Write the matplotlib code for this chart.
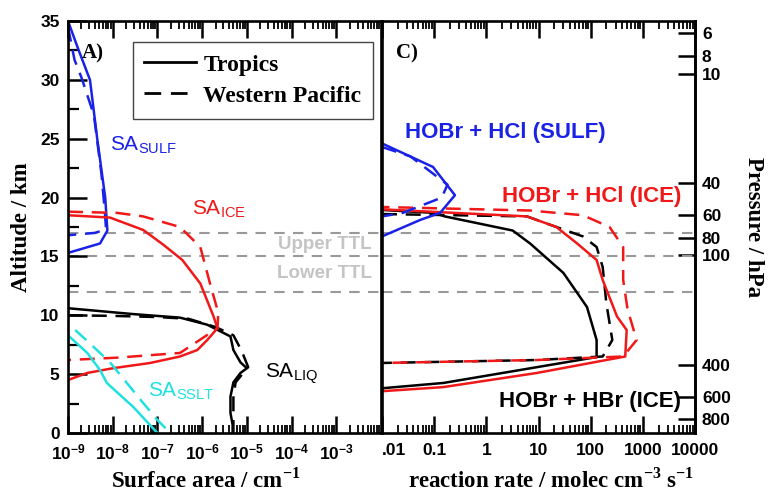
import numpy as np
import matplotlib.pyplot as plt
import matplotlib.ticker as ticker
from matplotlib.lines import Line2D

plt.rcParams['font.family'] = 'Liberation Sans'
plt.rcParams['mathtext.fontset'] = 'custom'
plt.rcParams['mathtext.rm'] = 'Liberation Serif:bold'
plt.rcParams['mathtext.bf'] = 'Liberation Sans:bold'
plt.rcParams['mathtext.sf'] = 'Liberation Sans'

# ---- panel A: surface area profiles (cm-1) vs altitude (km) ----
sulf_trop_alt = [35, 32.6, 30, 25, 20, 17.2, 16.1, 15.3]
sulf_trop_sa = [1.0e-9, 1.7e-9, 3.1e-9, 4.5e-9, 6.8e-9, 7.6e-9, 5.2e-9, 1.0e-9]
sulf_wp_alt = [34.5, 31.7, 30.2, 27, 22, 19, 17.3, 17.0, 16.8]
sulf_wp_sa = [1.0e-9, 1.4e-9, 2.0e-9, 3.8e-9, 5.6e-9, 6.6e-9, 7.1e-9, 4.0e-9, 1.0e-9]

ice_trop_alt = [18.5, 18.3, 17.25, 16.0, 14.7, 12.7, 9.9, 8.9, 7.9, 7.05, 6.5, 5.95, 5.5, 5.1, 4.5]
ice_trop_sa = [1.0e-9, 8.7e-9, 4.8e-8, 1.35e-7, 3.6e-7, 9.1e-7, 1.8e-6, 2.2e-6, 1.3e-6,
               7.8e-7, 3.2e-7, 6.9e-8, 1.0e-8, 2.7e-9, 1.0e-9]
ice_wp_alt = [18.8, 18.7, 18.4, 17.5, 15.8, 12.7, 10.2, 8.9, 6.8, 6.4, 6.2]
ice_wp_sa = [1.0e-9, 1.26e-8, 4.8e-8, 3.2e-7, 9.1e-7, 1.5e-6, 2.3e-6, 2.2e-6, 3.2e-7, 1.26e-8, 1.0e-9]

liq_trop_alt = [10.6, 10.1, 9.8, 9.2, 8.2, 7.05, 6.0, 5.5, 5.1, 4.3, 3.1, 1.7, 0.7, 0]
liq_trop_sa = [1.0e-9, 2.9e-8, 3.2e-7, 1.3e-6, 4.3e-6, 5.0e-6, 7.2e-6, 1.0e-5, 7.2e-6,
               5.0e-6, 4.3e-6, 4.3e-6, 4.8e-6, 4.8e-6]
liq_wp_alt = [10.0, 9.95, 9.85, 9.7, 9.0, 8.3, 7.0, 5.6, 5.0, 4.3, 3.0, 1.5, 0]
liq_wp_sa = [1.0e-9, 1.0e-8, 1.0e-7, 5.0e-7, 2.0e-6, 5.0e-6, 7.6e-6, 1.07e-5, 7.9e-6,
             5.6e-6, 5.0e-6, 5.0e-6, 5.0e-6]

sslt_trop_alt = [8.3, 6.8, 5.35, 4.25, 2.2, 0]
sslt_trop_sa = [1.0e-9, 2.7e-9, 5.2e-9, 7.4e-9, 2.9e-8, 1.0e-7]
sslt_wp_alt = [8.75, 7.6, 6.0, 2.55, 1.1, 0]
sslt_wp_sa = [1.45e-9, 3.1e-9, 8.7e-9, 4.8e-8, 1.0e-7, 1.95e-7]

# ---- panel C: reaction rates (molec cm-3 s-1) vs altitude (km) ----
hcl_sulf_trop_alt = [25.0, 24.6, 22.6, 20.2, 18.7, 18.1, 16.7, 16.4]
hcl_sulf_trop_rate = [0.003, 0.01, 0.095, 0.25, 0.13, 0.054, 0.01, 0.005]
hcl_sulf_wp_alt = [24.3, 23.5, 21.1, 20.0, 18.7, 18.4]
hcl_sulf_wp_rate = [0.01, 0.035, 0.18, 0.14, 0.025, 0.01]

hcl_ice_trop_alt = [19.0, 18.4, 17.5, 16.1, 14.7, 13.0, 9.9, 8.75, 6.5, 5.1, 3.9, 3.55]
hcl_ice_trop_rate = [0.01, 6.0, 22, 55, 130, 170, 320, 490, 460, 9.3, 0.15, 0.01]
hcl_ice_wp_alt = [19.2, 18.9, 18.5, 17.5, 15.8, 13.0, 10.5, 7.9, 6.5, 6.2, 5.95]
hcl_ice_wp_rate = [0.01, 6.9, 71, 230, 420, 420, 510, 760, 420, 9.3, 0.01]

hbr_ice_trop_alt = [18.95, 18.7, 18.4, 17.2, 16.1, 13.6, 10.7, 7.9, 6.45, 4.25, 3.8]
hbr_ice_trop_rate = [0.01, 0.1, 0.16, 3.2, 6.9, 30, 85, 130, 130, 0.15, 0.01]
hbr_ice_wp_alt = [18.6, 18.4, 17.5, 16.7, 15.8, 14.1, 11.0, 7.9, 6.5, 6.2, 5.95]
hbr_ice_wp_rate = [0.01, 6.0, 22, 71, 130, 170, 200, 260, 170, 9.3, 0.01]

ttl_levels = [17, 15, 12]
sa_ticks = [1e-9, 1e-8, 1e-7, 1e-6, 1e-5, 1e-4, 1e-3]
sa_ticklabels = [r'$\mathbf{10^{-9}}$', r'$\mathbf{10^{-8}}$', r'$\mathbf{10^{-7}}$',
                 r'$\mathbf{10^{-6}}$', r'$\mathbf{10^{-5}}$', r'$\mathbf{10^{-4}}$',
                 r'$\mathbf{10^{-3}}$']
rate_ticks = [0.01, 0.1, 1, 10, 100, 1000, 10000]
rate_ticklabels = ['.01', '0.1', '1', '10', '100', '1000', '10000']
p_ticks = [6, 8, 10, 40, 60, 80, 100, 400, 600, 800]

BLUE = '#1a22e6'
RED = '#f01818'
CYAN = '#20e0e0'
DASH = (0, (6, 3.5))
LW = 1.8
serif = 'Liberation Serif'

fig = plt.figure(figsize=(7.68, 4.93), dpi=100)
axA = fig.add_axes([68 / 768, 1 - 433 / 493, 313 / 768, 412 / 493])
axC = fig.add_axes([382 / 768, 1 - 433 / 493, 313 / 768, 412 / 493])


def style_axis(ax):
    ax.set_xscale('log')
    ax.set_ylim(0, 35)
    for s in ax.spines.values():
        s.set_linewidth(1.9)
    ax.tick_params(axis='x', which='major', direction='in', length=12, width=1.8,
                   top=True, labelsize=12.5, pad=7)
    ax.tick_params(axis='x', which='minor', direction='in', length=6, width=1.3, top=True)
    ax.tick_params(axis='y', which='major', direction='in', length=14, width=1.8,
                   labelsize=12.5, pad=6)
    ax.tick_params(axis='y', which='minor', direction='in', length=8, width=1.6)
    ax.xaxis.set_minor_locator(ticker.LogLocator(base=10, subs=np.arange(2, 10), numticks=20))
    ax.xaxis.set_minor_formatter(ticker.NullFormatter())
    for lv in ttl_levels:
        ax.axhline(lv, color='#999999', lw=1.5, ls=(0, (5, 4)), zorder=1)


# panel A
style_axis(axA)
axA.set_xlim(1e-9, 1e-2)
axA.plot(sulf_trop_sa, sulf_trop_alt, color=BLUE, lw=LW)
axA.plot(sulf_wp_sa, sulf_wp_alt, color=BLUE, lw=LW, ls=DASH)
axA.plot(liq_trop_sa, liq_trop_alt, color='black', lw=LW)
axA.plot(liq_wp_sa, liq_wp_alt, color='black', lw=LW, ls=DASH)
axA.plot(ice_trop_sa, ice_trop_alt, color=RED, lw=LW)
axA.plot(ice_wp_sa, ice_wp_alt, color=RED, lw=LW, ls=DASH)
axA.plot(sslt_trop_sa, sslt_trop_alt, color=CYAN, lw=LW)
axA.plot(sslt_wp_sa, sslt_wp_alt, color=CYAN, lw=LW, ls=DASH)
axA.set_xticks(sa_ticks)
axA.set_xticklabels(sa_ticklabels)
axA.yaxis.set_major_locator(ticker.MultipleLocator(5))
axA.yaxis.set_minor_locator(ticker.MultipleLocator(2.5))
for lab in axA.get_yticklabels():
    lab.set_fontweight('bold')
axA.set_ylabel('Altitude / km', family=serif, fontweight='bold', fontsize=16.5, labelpad=6)
axA.set_xlabel(r'Surface area / cm$^{\mathrm{-1}}$', family=serif, fontweight='bold',
               fontsize=16.5)
axA.xaxis.set_label_coords(0.44, -0.085)

axA.text(0.045, 0.945, 'A)', transform=axA.transAxes, family=serif, fontweight='bold',
         fontsize=15, va='top')
axA.text(8.5e-9, 24.0, r'SA$_{\mathsf{SULF}}$', color=BLUE, fontsize=15)
axA.text(6.0e-7, 18.6, r'SA$_{\mathsf{ICE}}$', color=RED, fontsize=15)
axA.text(2.6e-5, 4.7, r'SA$_{\mathsf{LIQ}}$', color='black', fontsize=15)
axA.text(6.1e-8, 3.1, r'SA$_{\mathsf{SSLT}}$', color=CYAN, fontsize=15)
axA.text(0.97, 15.6, 'Upper TTL', transform=axA.get_yaxis_transform(), ha='right',
         color='#c4c4c4', fontsize=13.5, fontweight='bold')
axA.text(0.97, 13.2, 'Lower TTL', transform=axA.get_yaxis_transform(), ha='right',
         color='#c4c4c4', fontsize=13.5, fontweight='bold')

handles = [Line2D([], [], color='black', lw=2),
           Line2D([], [], color='black', lw=2, ls=DASH)]
leg = axA.legend(handles, ['Tropics', 'Western Pacific'], loc='upper right',
                 bbox_to_anchor=(0.975, 0.948), fancybox=False, framealpha=1,
                 edgecolor='#444444', handlelength=2.2,
                 prop={'family': serif, 'weight': 'bold', 'size': 17},
                 borderpad=0.5, labelspacing=0.4, handletextpad=0.3, borderaxespad=0)
leg.get_frame().set_linewidth(1.0)

# panel C
style_axis(axC)
axC.set_xlim(0.01, 1e4)
axC.plot(hbr_ice_trop_rate, hbr_ice_trop_alt, color='black', lw=LW)
axC.plot(hbr_ice_wp_rate, hbr_ice_wp_alt, color='black', lw=LW, ls=DASH)
axC.plot(hcl_ice_trop_rate, hcl_ice_trop_alt, color=RED, lw=LW)
axC.plot(hcl_ice_wp_rate, hcl_ice_wp_alt, color=RED, lw=LW, ls=(3, (6, 3.5)))
axC.plot(hcl_sulf_trop_rate, hcl_sulf_trop_alt, color=BLUE, lw=LW)
axC.plot(hcl_sulf_wp_rate, hcl_sulf_wp_alt, color=BLUE, lw=LW, ls=DASH)
axC.set_xticks(rate_ticks)
axC.set_xticklabels(rate_ticklabels)
for lab in axC.get_xticklabels():
    lab.set_fontweight('bold')
axC.get_xticklabels()[0].set_ha('left')
axC.tick_params(axis='y', left=False, labelleft=False)
axC.yaxis.set_major_locator(ticker.NullLocator())
axC.yaxis.set_minor_locator(ticker.NullLocator())
axC.set_xlabel(r'reaction rate / molec cm$^{\mathrm{-3}}$ s$^{\mathrm{-1}}$', family=serif,
               fontweight='bold', fontsize=16.5)
axC.xaxis.set_label_coords(0.54, -0.085)

axC.text(0.045, 0.945, 'C)', transform=axC.transAxes, family=serif, fontweight='bold',
         fontsize=15, va='top')
axC.text(0.073, 25.1, 'HOBr + HCl (SULF)', color=BLUE, fontsize=16, fontweight='bold',
         transform=axC.get_yaxis_transform())
axC.text(0.955, 19.6, 'HOBr + HCl (ICE)', color=RED, fontsize=16, fontweight='bold',
         ha='right', transform=axC.get_yaxis_transform())
axC.text(0.955, 2.2, 'HOBr + HBr (ICE)', color='black', fontsize=16, fontweight='bold',
         ha='right', transform=axC.get_yaxis_transform())

# pressure axis: scale height fit to the model's p-z relation
H, P0 = 6.7, 952.0


def alt2p(z):
    return P0 * np.exp(-np.asarray(z, dtype=float) / H)


def p2alt(p):
    p = np.clip(np.asarray(p, dtype=float), 1e-6, None)
    return H * np.log(P0 / p)


sec = axC.secondary_yaxis('right', functions=(alt2p, p2alt))
sec.yaxis.set_major_locator(ticker.FixedLocator(p_ticks))
sec.yaxis.set_minor_locator(ticker.NullLocator())
sec.yaxis.set_major_formatter(ticker.FormatStrFormatter('%d'))
sec.tick_params(direction='in', length=12, width=1.8, labelsize=12.5, pad=5)
for lab in sec.get_yticklabels():
    lab.set_fontweight('bold')
sec.spines['right'].set_linewidth(1.9)
sec.set_ylabel('Pressure / hPa', family=serif, fontweight='bold', fontsize=16.5,
               rotation=270, labelpad=24)

fig.savefig('out.png', dpi=100)
